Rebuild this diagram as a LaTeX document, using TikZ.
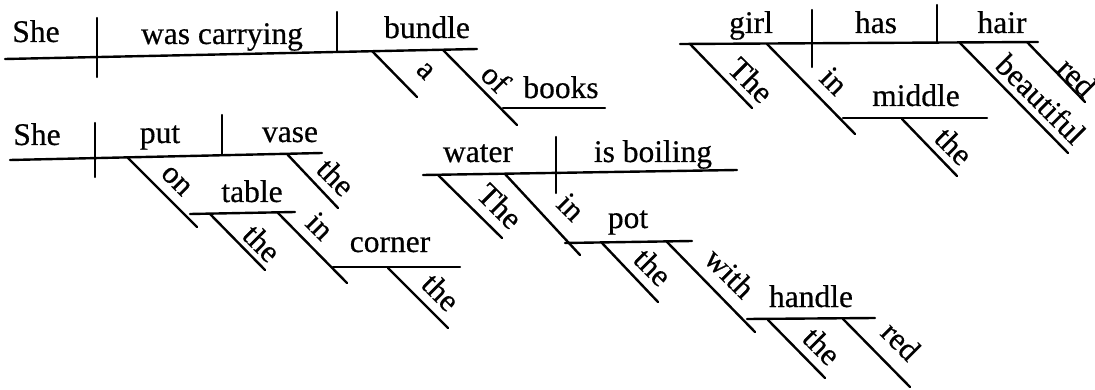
\documentclass[tikz,border=0pt]{standalone}
\usepackage{fontspec}
\setmainfont{Liberation Serif}[FakeBold=0.5]
\begin{document}
\begin{tikzpicture}[x=1pt,y=-1pt,
  ln/.style={line width=2.4pt,line cap=round},
  wd/.style={inner sep=0pt,anchor=base,font=\fontsize{31.5}{36}\selectfont},
  dg/.style={inner sep=0pt,rotate=-45,font=\fontsize{31.5}{36}\selectfont}]
\useasboundingbox (0,0) rectangle (1095,390);
% ---------- She was carrying bundle of books ----------
\coordinate (a1) at (5,59);   \coordinate (a2) at (477,49);
\coordinate (a3) at (97,18);  \coordinate (a4) at (97,77);
\coordinate (a5) at (337,12); \coordinate (a6) at (337,52);
\coordinate (a7) at (372,51); \coordinate (a8) at (417,97);
\coordinate (a9) at (443,50); \coordinate (a10) at (517,125);
\coordinate (a11) at (503,108); \coordinate (a12) at (605,108);
\draw[ln] (a1) -- (a2);
\draw[ln] (a3) -- (a4);
\draw[ln] (a5) -- (a6);
\draw[ln] (a7) -- (a8);
\draw[ln] (a9) -- (a10);
\draw[ln] (a11) -- (a12);
\node[wd] (she1) at (36,42) {She};
\node[wd] (wascarrying) at (222,44) {was carrying};
\node[wd] (bundle) at (427,38) {bundle};
\node[wd] (books) at (561,98) {books};
\node[dg] (aa) at (425,71) {a};
\node[dg] (of) at (496,78) {of};
% ---------- The girl has hair ----------
\coordinate (g1) at (680,44);  \coordinate (g2) at (1038,42);
\coordinate (g3) at (690,44);  \coordinate (g4) at (752,108);
\coordinate (g5) at (767,44);  \coordinate (g6) at (855,134);
\coordinate (g7) at (812,10);  \coordinate (g8) at (812,67);
\coordinate (g9) at (937,5);   \coordinate (g10) at (937,43);
\coordinate (g11) at (960,43); \coordinate (g12) at (1068,153);
\coordinate (g13) at (1027,42); \coordinate (g14) at (1085,102);
\coordinate (g15) at (843,118); \coordinate (g16) at (987,118);
\coordinate (g17) at (902,119); \coordinate (g18) at (957,176);
\draw[ln] (g1) -- (g2);
\draw[ln] (g3) -- (g4);
\draw[ln] (g5) -- (g6);
\draw[ln] (g7) -- (g8);
\draw[ln] (g9) -- (g10);
\draw[ln] (g11) -- (g12);
\draw[ln] (g13) -- (g14);
\draw[ln] (g15) -- (g16);
\draw[ln] (g17) -- (g18);
\node[wd] (girl) at (751,33) {girl};
\node[wd] (has) at (876,33) {has};
\node[wd] (hair) at (1002,33) {hair};
\node[wd] (middle) at (916,106) {middle};
\node[dg] (the1) at (751,80) {The};
\node[dg] (in1) at (834,81) {in};
\node[dg] (the2) at (954,146) {the};
\node[dg] (beautiful) at (1041,99) {beautiful};
\node[dg] (red1) at (1077,77) {red};
% ---------- She put vase on table in corner ----------
\coordinate (p1) at (10,160);  \coordinate (p2) at (322,153);
\coordinate (p3) at (95,123);  \coordinate (p4) at (95,177);
\coordinate (p5) at (222,115); \coordinate (p6) at (222,154);
\coordinate (p7) at (128,158); \coordinate (p8) at (197,227);
\coordinate (p9) at (287,154); \coordinate (p10) at (338,208);
\coordinate (p11) at (190,214); \coordinate (p12) at (295,212);
\coordinate (p13) at (210,214); \coordinate (p14) at (265,270);
\coordinate (p15) at (278,213); \coordinate (p16) at (347,283);
\coordinate (p17) at (333,267); \coordinate (p18) at (460,267);
\coordinate (p19) at (388,268); \coordinate (p20) at (448,328);
\draw[ln] (p1) -- (p2);
\draw[ln] (p3) -- (p4);
\draw[ln] (p5) -- (p6);
\draw[ln] (p7) -- (p8);
\draw[ln] (p9) -- (p10);
\draw[ln] (p11) -- (p12);
\draw[ln] (p13) -- (p14);
\draw[ln] (p15) -- (p16);
\draw[ln] (p17) -- (p18);
\draw[ln] (p19) -- (p20);
\node[wd] (she2) at (37,145) {She};
\node[wd] (put) at (160,143) {put};
\node[wd] (vase) at (290,142) {vase};
\node[wd] (table) at (252,202) {table};
\node[wd] (corner) at (390,252) {corner};
\node[dg] (on) at (176,181) {on};
\node[dg] (the3) at (336,177) {the};
\node[dg] (the4) at (262,243) {the};
\node[dg] (in2) at (320,226) {in};
\node[dg] (the5) at (441,292) {the};
% ---------- The water is boiling ----------
\coordinate (w1) at (423,175); \coordinate (w2) at (737,170);
\coordinate (w3) at (556,137); \coordinate (w4) at (556,193);
\coordinate (w5) at (438,175); \coordinate (w6) at (502,238);
\coordinate (w7) at (505,174); \coordinate (w8) at (580,255);
\coordinate (w9) at (565,243); \coordinate (w10) at (692,241);
\coordinate (w11) at (602,243); \coordinate (w12) at (658,302);
\coordinate (w13) at (667,242); \coordinate (w14) at (755,332);
\coordinate (w15) at (747,319); \coordinate (w16) at (875,318);
\coordinate (w17) at (768,320); \coordinate (w18) at (825,378);
\coordinate (w19) at (843,319); \coordinate (w20) at (910,387);
\draw[ln] (w1) -- (w2);
\draw[ln] (w3) -- (w4);
\draw[ln] (w5) -- (w6);
\draw[ln] (w7) -- (w8);
\draw[ln] (w9) -- (w10);
\draw[ln] (w11) -- (w12);
\draw[ln] (w13) -- (w14);
\draw[ln] (w15) -- (w16);
\draw[ln] (w17) -- (w18);
\draw[ln] (w19) -- (w20);
\node[wd] (water) at (478,162) {water};
\node[wd] (isboiling) at (653,162) {is boiling};
\node[wd] (pot) at (628,228) {pot};
\node[wd] (handle) at (811,307) {handle};
\node[dg] (the6) at (500,206) {The};
\node[dg] (in3) at (571,207) {in};
\node[dg] (the7) at (653,267) {the};
\node[dg] (with) at (730,273) {with};
\node[dg] (the8) at (822,346) {the};
\node[dg] (red2) at (901,341) {red};
\end{tikzpicture}
\end{document}
